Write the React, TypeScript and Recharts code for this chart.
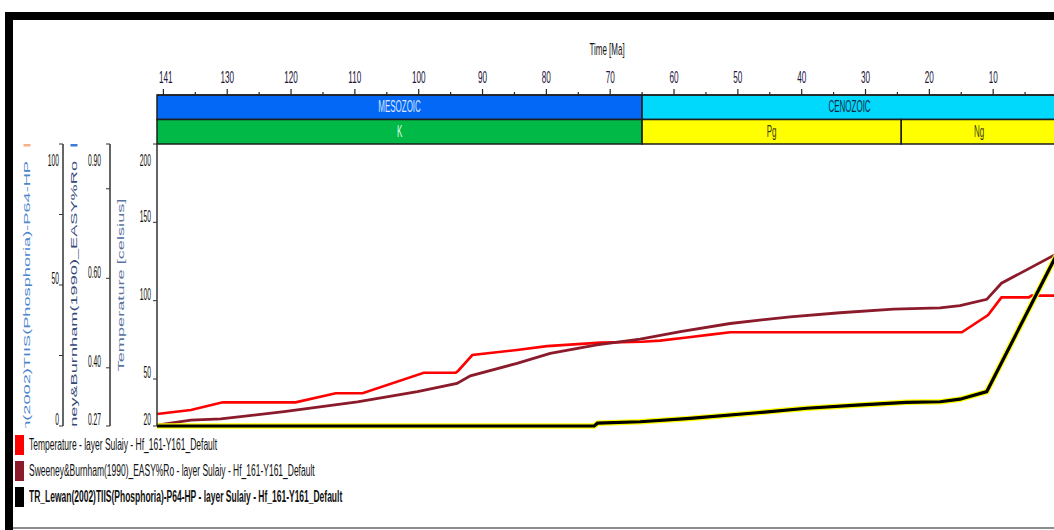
import React from 'react';
import { ComposedChart, Line, XAxis, YAxis, ReferenceArea } from 'recharts';

// Burial history of layer Sulaiy, well Hf_161-Y161 (age in Ma)
const tempAge = [141, 135.7, 130.7, 119.3, 113, 108.8, 99.2, 94.2, 93.8, 91.6, 84.6, 79.9, 71.5, 65, 62.2, 58, 54.3, 51.2, 14.9, 10.8, 8.7, 4.4, 4, 0];
const tempValue = [27.7, 30.2, 35.1, 35.1, 40.9, 40.9, 54, 54, 55.3, 65.3, 68.5, 71, 73.2, 73.8, 74.5, 76.5, 78.3, 79.8, 79.8, 90.8, 102.1, 102.1, 103.2, 103.2];

const roAge = [141, 135.7, 131, 121.1, 109.6, 100.2, 94, 91.9, 84.6, 79.4, 72.1, 65.3, 59, 51.2, 41.8, 34, 25.6, 18.3, 15.2, 11, 8.7, 0];
const roValue = [0.272, 0.283, 0.286, 0.302, 0.324, 0.347, 0.365, 0.382, 0.41, 0.432, 0.451, 0.464, 0.481, 0.499, 0.514, 0.523, 0.531, 0.534, 0.539, 0.553, 0.589, 0.655];

const trAge = [141, 72.5, 72, 65.3, 57.5, 47, 39.2, 31.4, 23.6, 18.3, 15.2, 11, 0];
const trValue = [0, 0, 1.0, 1.5, 2.7, 4.7, 6.3, 7.4, 8.4, 8.6, 9.5, 12.2, 61];

const timeTicks = [141, 140, 135, 130, 125, 120, 115, 110, 105, 100, 95, 90, 85, 80, 75, 70, 65, 60, 55, 50, 45, 40, 35, 30, 25, 20, 15, 10, 5, 0];
const tempTicks = [20, 50, 100, 150, 200];
const roTicks = [0.27, 0.4, 0.6, 0.8, 0.9];
const trTicks = [0, 25, 50, 75, 100];

const eras = [
  { name: 'MESOZOIC', from: 141, to: 65, fill: '#0468f6', text: '#dce6ff' },
  { name: 'CENOZOIC', from: 65, to: 0, fill: '#00d9fc', text: '#14283e' },
];
const periods = [
  { name: 'K', from: 141, to: 65, fill: '#00b947', text: '#dcffe4' },
  { name: 'Pg', from: 65, to: 24.4, fill: '#ffff00', text: '#3a3a10' },
  { name: 'Ng', from: 24.4, to: 0, fill: '#ffff00', text: '#3a3a10' },
];

const legendItems = [
  { name: 'Temperature - layer Sulaiy - Hf_161-Y161_Default', color: '#ff0000', bold: false },
  { name: 'Sweeney&Burnham(1990)_EASY%Ro - layer Sulaiy - Hf_161-Y161_Default', color: '#8b1a2b', bold: false },
  { name: 'TR_Lewan(2002)TIIS(Phosphoria)-P64-HP - layer Sulaiy - Hf_161-Y161_Default', color: '#000000', bold: true },
];

const toPoints = (ages: number[], values: number[]) => ages.map((age, i) => ({ age, value: values[i] }));
const tempData = toPoints(tempAge, tempValue);
const roData = toPoints(roAge, roValue);
const trData = toPoints(trAge, trValue);
// the stratigraphy strip only needs the time span to build its scale
const stripData = timeTicks.map((age) => ({ age, band: 0 }));

const FONT = "'Liberation Sans', Arial, sans-serif";
const W = 1100;

const TimeTick = (props: any) => {
  const { x, y, payload } = props;
  const v = payload.value;
  const major = v % 10 === 0;
  const len = v === 141 ? 0 : major ? 6 : 3;
  const axisY = y + 12;
  const showLabel = v === 141 || (major && v !== 140);
  return (
    <g>
      {len > 0 && <line x1={x} x2={x} y1={axisY} y2={axisY - len} stroke="#222" strokeWidth={1.2} />}
      {showLabel && (
        <text
          transform={`translate(${v === 141 ? x + 2 : x},${y}) scale(0.48,1)`}
          textAnchor={v === 141 ? 'start' : 'middle'}
          fontSize={17}
          fontFamily={FONT}
          fill="#23163a"
        >
          {v}
        </text>
      )}
    </g>
  );
};

const TimeTitle = (p: any) => {
  const vb = p.viewBox;
  if (!vb) return null;
  return (
    <text transform={`translate(${vb.x + vb.width / 2},${vb.y}) scale(0.5,1)`} textAnchor="middle" fontSize={16} fontFamily={FONT} fill="#111">
      Time [Ma]
    </text>
  );
};

const bandLabel = (text: string, color: string) => ({
  value: text,
  position: 'center' as const,
  content: (p: any) => {
    const vb = p.viewBox;
    if (!vb) return null;
    return (
      <text
        transform={`translate(${vb.x + vb.width / 2},${vb.y + vb.height / 2}) scale(0.5,1)`}
        textAnchor="middle"
        dominantBaseline="central"
        fontSize={16}
        fontFamily={FONT}
        fill={color}
      >
        {text}
      </text>
    );
  },
});

const YTick = (props: any) => {
  const { x, y, payload, top, hidden, digits } = props;
  const v = payload.value;
  if (hidden && hidden.includes(v)) return <g />;
  const dy = v === top ? 17 : -6;
  const label = digits ? v.toFixed(digits) : String(v);
  return (
    <text
      transform={`translate(${x},${y + dy}) scale(0.42,1)`}
      textAnchor="end"
      dominantBaseline="central"
      fontSize={16}
      fontFamily={FONT}
      fill="#111"
    >
      {label}
    </text>
  );
};

// rotated axis titles, clipped to the axis band
const axisTitle = (id: string, text: string, color: string, align: 'middle' | 'top', mark?: string) => ({
  content: (p: any) => {
    const vb = p.viewBox;
    if (!vb) return null;
    const cx = vb.x + 11;
    const ty = align === 'middle' ? vb.y + vb.height / 2 : vb.y + 17;
    return (
      <g>
        <defs>
          <clipPath id={id}>
            <rect x={vb.x} y={vb.y - 4} width={vb.width} height={vb.height + 6} />
          </clipPath>
        </defs>
        <g clipPath={`url(#${id})`}>
          <text
            transform={`translate(${cx},${ty}) scale(0.5,1) rotate(-90)`}
            textAnchor={align === 'middle' ? 'middle' : 'end'}
            dominantBaseline="central"
            fontSize={18.2}
            fontFamily={FONT}
            fill={color}
          >
            {text}
          </text>
          {mark && <rect x={cx - 3.5} y={vb.y} width={7} height={2.5} fill={mark} />}
        </g>
      </g>
    );
  },
});

export default function App() {
  return (
    <div style={{ position: 'fixed', left: 0, top: 0, width: 1054, height: 530, overflow: 'hidden', background: '#fff' }}>
      <div
        style={{
          position: 'absolute',
          left: 5,
          top: 12,
          width: 1200,
          height: 600,
          borderLeft: '8px solid #000',
          borderTop: '8px solid #000',
          boxSizing: 'border-box',
        }}
      />
      <div style={{ position: 'absolute', left: 13, top: 527, width: 1100, height: 2, background: '#8c8c8c' }} />

      <div style={{ position: 'absolute', left: 0, top: 0 }}>
        <ComposedChart width={W} height={146} data={stripData} margin={{ top: 55, right: 43, bottom: 2, left: 157 }}>
          <XAxis
            xAxisId="t"
            type="number"
            dataKey="age"
            domain={[0, 141]}
            reversed
            orientation="top"
            height={40}
            ticks={timeTicks}
            interval={0}
            tickLine={false}
            tickSize={6}
            tickMargin={6}
            axisLine={{ stroke: '#222', strokeWidth: 1.5 }}
            tick={<TimeTick />}
            label={{ content: TimeTitle }}
          />
          <YAxis yAxisId="band" type="number" domain={[0, 2]} hide />
          <Line xAxisId="t" yAxisId="band" dataKey="band" stroke="none" dot={false} isAnimationActive={false} />
          {eras.map((e) => (
            <ReferenceArea
              key={e.name}
              xAxisId="t"
              yAxisId="band"
              x1={e.from}
              x2={e.to}
              y1={1}
              y2={2}
              fill={e.fill}
              fillOpacity={1}
              stroke="#1e1e1e"
              strokeWidth={1.5}
              label={bandLabel(e.name, e.text)}
            />
          ))}
          {periods.map((e) => (
            <ReferenceArea
              key={e.name}
              xAxisId="t"
              yAxisId="band"
              x1={e.from}
              x2={e.to}
              y1={0}
              y2={1}
              fill={e.fill}
              fillOpacity={1}
              stroke="#1e1e1e"
              strokeWidth={1.5}
              label={bandLabel(e.name, e.text)}
            />
          ))}
        </ComposedChart>
      </div>

      <div style={{ position: 'absolute', left: 0, top: 0 }}>
        <ComposedChart width={W} height={430} margin={{ top: 144, right: 43, bottom: 4, left: 16 }}>
          <XAxis
            type="number"
            dataKey="age"
            domain={[0, 141]}
            reversed
            orientation="bottom"
            height={0}
            tick={false}
            tickLine={false}
            axisLine={{ stroke: '#555', strokeWidth: 2 }}
          />
          {/* ids sort so that temperature sits next to the plot, TR outermost */}
          <YAxis
            yAxisId="a_temp"
            width={47}
            domain={[20, 200]}
            ticks={tempTicks}
            interval={0}
            tickSize={4}
            tickMargin={2}
            axisLine={{ stroke: '#333', strokeWidth: 1.5 }}
            tickLine={{ stroke: '#333' }}
            tick={<YTick top={200} />}
            label={axisTitle('clip-temp', 'Temperature [celsius]', '#5a74a0', 'middle')}
          />
          <YAxis
            yAxisId="b_ro"
            width={47}
            domain={[0.27, 0.9]}
            ticks={roTicks}
            interval={0}
            tickSize={4}
            tickMargin={5}
            axisLine={{ stroke: '#333', strokeWidth: 1.5 }}
            tickLine={{ stroke: '#333' }}
            tick={<YTick top={0.9} digits={2} hidden={[0.8]} />}
            label={axisTitle('clip-ro', 'Sweeney&Burnham(1990)_EASY%Ro', '#34497a', 'top', '#3d7bd9')}
          />
          <YAxis
            yAxisId="c_tr"
            width={47}
            domain={[0, 100]}
            ticks={trTicks}
            interval={0}
            tickSize={4}
            tickMargin={0}
            axisLine={{ stroke: '#333', strokeWidth: 1.5 }}
            tickLine={{ stroke: '#333' }}
            tick={<YTick top={100} hidden={[25, 75]} />}
            label={axisTitle('clip-tr', 'TR_Lewan(2002)TIIS(Phosphoria)-P64-HP', '#4a86cf', 'top', '#f4b183')}
          />
          <Line yAxisId="a_temp" data={tempData} dataKey="value" type="linear" stroke="#ff0000" strokeWidth={2.6} dot={false} isAnimationActive={false} />
          <Line yAxisId="b_ro" data={roData} dataKey="value" type="linear" stroke="#8b1a2b" strokeWidth={2.8} dot={false} isAnimationActive={false} />
          <Line yAxisId="c_tr" data={trData} dataKey="value" type="linear" stroke="#ffff00" strokeWidth={5.5} dot={false} isAnimationActive={false} />
          <Line yAxisId="c_tr" data={trData} dataKey="value" type="linear" stroke="#000000" strokeWidth={3.2} dot={false} isAnimationActive={false} />
        </ComposedChart>
      </div>

      <div style={{ position: 'absolute', left: 15, top: 432, fontFamily: FONT }}>
        {legendItems.map((item) => (
          <div key={item.name} style={{ display: 'flex', alignItems: 'center', height: 26 }}>
            <div style={{ width: 9, height: 20, background: item.color }} />
            <span
              style={{
                display: 'inline-block',
                marginLeft: 5,
                fontSize: 16,
                fontWeight: item.bold ? 700 : 400,
                color: '#111',
                whiteSpace: 'nowrap',
                transform: 'scaleX(0.53)',
                transformOrigin: 'left center',
              }}
            >
              {item.name}
            </span>
          </div>
        ))}
      </div>
    </div>
  );
}
